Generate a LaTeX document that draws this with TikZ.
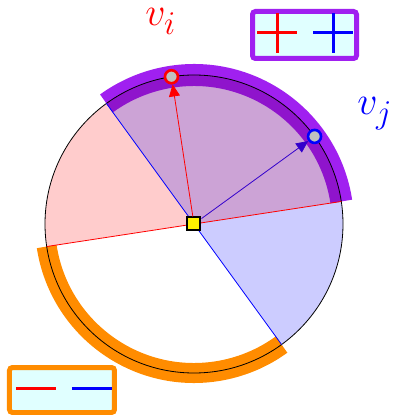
\documentclass[tikz,border=0pt]{standalone}
\usepackage{tikz}
\usetikzlibrary{
  arrows.meta,
  positioning
}
\definecolor{coneRed}{HTML}{FF0000}
\definecolor{coneBlue}{HTML}{0000FF}
\definecolor{coneArrowBlue}{HTML}{3300CC}
\definecolor{conePurple}{HTML}{A020F0}
\definecolor{coneOrange}{HTML}{FF8C00}
\definecolor{coneCyan}{HTML}{E0FFFF}
\definecolor{coneGray}{HTML}{C0C0C0}
\tikzset{
  hullBand/.style={line width=22pt},
  gapBand/.style={line width=20pt, coneOrange},
  halfPlane/.style={opacity=0.2},
  splitLine/.style={line width=0.8pt},
  vertexDot/.style={
    circle,
    fill=coneGray,
    line width=2.6pt,
    minimum size=13pt,
    inner sep=0pt
  },
  centerBox/.style={
    rectangle,
    draw=black,
    fill=yellow,
    line width=2pt,
    minimum size=13pt,
    inner sep=0pt
  },
  vertexArrow/.style={-{Triangle[length=12pt,width=11pt]}, line width=0.8pt},
  keyBox/.style={
    rectangle,
    rounded corners=3pt,
    line width=5pt,
    fill=coneCyan,
    inner sep=0pt
  },
  keyLine/.style={line width=3pt},
  vertexLabel/.style={
    font=\Huge,
    scale=1.6,
    transform shape,
    anchor=base west,
    inner sep=0pt
  }
}

\begin{document}
\begin{tikzpicture}[x=1pt,y=1pt]
  \useasboundingbox (-194,-191) rectangle (205,224);
  % bands on the circle
  \draw[hullBand, conePurple] (8.7:149) arc[start angle=8.7, end angle=126, radius=149];
  \draw[gapBand] (188.7:149) arc[start angle=188.7, end angle=306, radius=149];
  % half planes
  \fill[halfPlane, coneRed] (0,0) -- (8.7:149)
    arc[start angle=8.7, end angle=188.7, radius=149] -- cycle;
  \fill[halfPlane, coneBlue] (0,0) -- (-54:149)
    arc[start angle=-54, end angle=126, radius=149] -- cycle;
  \draw[line width=0.8pt] (0,0) circle[radius=149];
  \coordinate (redA) at (8.7:149);
  \coordinate (redB) at (188.7:149);
  \coordinate (blueA) at (126:149);
  \coordinate (blueB) at (-54:149);
  \draw[splitLine, coneRed] (redA) -- (redB);
  \draw[splitLine, coneBlue] (blueA) -- (blueB);
  % vertices
  \node[centerBox] (ctr) at (0,0) {};
  \node[vertexDot, draw=coneRed] (vi) at (98.7:149) {};
  \node[vertexDot, draw=coneBlue] (vj) at (36:149) {};
  \draw[vertexArrow, coneRed] (ctr) -- (vi);
  \draw[vertexArrow, coneArrowBlue] (ctr) -- (vj);
  \node[vertexLabel, text=coneRed] (labI) at (-49,198) {\(v_i\)};
  \node[vertexLabel, text=coneBlue] (labJ) at (163,109) {\(v_j\)};
  % keys
  \node[keyBox, draw=conePurple, minimum width=104pt, minimum height=47pt]
    (keyTop) at (110.5,189) {};
  \draw[keyLine, coneRed] (63,191) -- (103,191);
  \draw[keyLine, coneRed] (83,211) -- (83,171);
  \draw[keyLine, coneBlue] (119,191) -- (159,191);
  \draw[keyLine, coneBlue] (139,211) -- (139,171);
  \node[keyBox, draw=coneOrange, minimum width=105pt, minimum height=45pt]
    (keyBot) at (-132,-166) {};
  \draw[keyLine, coneRed] (-178,-164) -- (-138,-164);
  \draw[keyLine, coneBlue] (-122,-164) -- (-82,-164);
\end{tikzpicture}
\end{document}
